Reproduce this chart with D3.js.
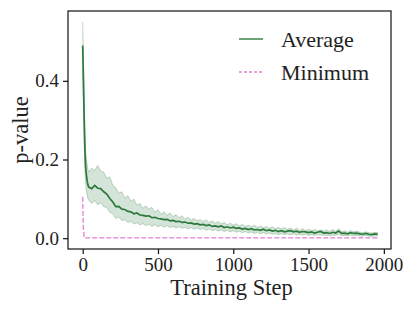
<!DOCTYPE html>
<html>
<head>
<script src="https://d3js.org/d3.v7.min.js"></script>
<style>
  body { margin: 0; background: #fff; }
  text { font-family: "Times New Roman", "Liberation Serif", serif; fill: #222; }
</style>
</head>
<body>
<div id="viz"></div>
<script type="text/javascript">
// training steps (x)
var steps = [0, 5, 10, 15, 20, 25, 30, 35,
  40, 60, 80, 100, 120, 140, 160, 180, 200, 220, 240, 260, 280, 300, 320, 340, 360, 380,
  400, 420, 440, 460, 480, 500, 520, 540, 560, 580, 600, 620, 640, 660, 680, 700, 720, 740, 760, 780,
  800, 820, 840, 860, 880, 900, 920, 940, 960, 980, 1000, 1020, 1040, 1060, 1080, 1100, 1120, 1140, 1160, 1180,
  1200, 1220, 1240, 1260, 1280, 1300, 1320, 1340, 1360, 1380, 1400, 1420, 1440, 1460, 1480, 1500, 1520, 1540, 1560, 1580,
  1600, 1620, 1640, 1660, 1680, 1700, 1720, 1740, 1760, 1780, 1800, 1820, 1840, 1860, 1880, 1900, 1920, 1940, 1960];

// average p-value
var avgValues = [0.49, 0.40, 0.30, 0.22, 0.18, 0.16, 0.145, 0.135,
  .130, .126, .134, .127, .126, .118, .112, .101, .092, .080, .081, .074, .073, .068, .067, .062, .064, .059,
  .058, .056, .057, .052, .053, .050, .049, .047, .048, .044, .045, .042, .043, .040, .041, .038, .039, .036, .037, .034,
  .035, .032, .034, .030, .031, .029, .031, .027, .029, .026, .028, .025, .026, .023, .025, .022, .024, .021, .022, .020,
  .023, .019, .021, .018, .020, .017, .019, .016, .018, .019, .016, .018, .015, .017, .016, .014, .016, .013, .015, .017,
  .013, .014, .012, .015, .013, .018, .012, .013, .011, .014, .012, .013, .011, .010, .012, .010, .009, .011, .010];

// upper edge of the shaded band
var hiValues = [0.55, 0.46, 0.36, 0.27, 0.22, 0.20, 0.185, 0.175,
  .168, .178, .172, .185, .170, .168, .152, .156, .134, .128, .114, .118, .102, .108, .094, .099, .084, .088,
  .076, .082, .074, .078, .066, .072, .061, .067, .058, .064, .055, .060, .052, .057, .049, .053, .046, .050, .044, .047,
  .042, .047, .040, .044, .038, .042, .036, .040, .034, .038, .033, .037, .031, .035, .030, .033, .029, .033, .027, .031,
  .026, .030, .025, .029, .024, .028, .023, .027, .022, .026, .021, .025, .020, .024, .019, .023, .019, .022, .018, .021,
  .018, .021, .017, .022, .017, .024, .016, .019, .015, .019, .016, .018, .015, .014, .016, .014, .013, .015, .014];

// lower edge of the shaded band
var loValues = [0.43, 0.34, 0.25, 0.17, 0.14, 0.12, 0.11, 0.10,
  .097, .088, .096, .085, .090, .080, .078, .066, .062, .050, .054, .045, .047, .040, .043, .036, .039, .034,
  .037, .032, .036, .030, .034, .029, .033, .028, .032, .027, .030, .026, .029, .025, .028, .024, .027, .023, .026, .022,
  .025, .020, .024, .019, .022, .018, .021, .017, .020, .016, .019, .015, .018, .014, .017, .013, .016, .012, .015, .011,
  .014, .011, .013, .010, .012, .009, .012, .009, .011, .009, .011, .008, .010, .008, .010, .007, .009, .007, .009, .008,
  .007, .008, .006, .008, .007, .010, .006, .007, .006, .008, .006, .007, .006, .005, .007, .005, .005, .006, .005];

// minimum p-value
var minSteps = [0, 4, 10, 1960];
var minValues = [0.105, 0.03, 0.001, 0.001];

var xTicks = [0, 500, 1000, 1500, 2000];
var yTicks = [0.0, 0.2, 0.4];

var width = 415, height = 311;
var box = {left: 68, top: 11, right: 391, bottom: 249};
var serif = "'Times New Roman', 'Liberation Serif', serif";

var avgColor = "#2b7a3b", minColor = "#dd82d2";

var svg = d3.select("#viz").append("svg")
    .attr("width", width)
    .attr("height", height);

var x = d3.scaleLinear().domain([-97.5, 2047.5]).range([box.left, box.right]);
var y = d3.scaleLinear().domain([-0.0275, 0.5775]).range([box.bottom, box.top]);

var avgData = steps.map(function(s, i) {
    return {s: s, a: avgValues[i], hi: hiValues[i], lo: loValues[i]};
});
var minData = minSteps.map(function(s, i) { return {s: s, v: minValues[i]}; });

// shaded band
svg.append("path")
    .datum(avgData)
    .attr("fill", avgColor)
    .attr("fill-opacity", 0.2)
    .attr("d", d3.area()
        .x(function(d) { return x(d.s); })
        .y0(function(d) { return y(d.lo); })
        .y1(function(d) { return y(d.hi); }));

// band edges
["hi", "lo"].forEach(function(k) {
    svg.append("path")
        .datum(avgData)
        .attr("fill", "none")
        .attr("stroke", avgColor)
        .attr("stroke-opacity", 0.35)
        .attr("stroke-width", 0.8)
        .attr("d", d3.line()
            .x(function(d) { return x(d.s); })
            .y(function(d) { return y(d[k]); }));
});

// minimum line
svg.append("path")
    .datum(minData)
    .attr("fill", "none")
    .attr("stroke", minColor)
    .attr("stroke-width", 1.3)
    .attr("stroke-dasharray", "5,2")
    .attr("d", d3.line()
        .x(function(d) { return x(d.s); })
        .y(function(d) { return y(d.v); }));

// average line
svg.append("path")
    .datum(avgData)
    .attr("fill", "none")
    .attr("stroke", avgColor)
    .attr("stroke-width", 1.7)
    .attr("d", d3.line()
        .x(function(d) { return x(d.s); })
        .y(function(d) { return y(d.a); }));

// frame
svg.append("rect")
    .attr("x", box.left).attr("y", box.top)
    .attr("width", box.right - box.left)
    .attr("height", box.bottom - box.top)
    .attr("fill", "none")
    .attr("stroke", "#111")
    .attr("stroke-width", 1.2);

// axes
var xAxis = svg.append("g")
    .attr("transform", "translate(0," + box.bottom + ")")
    .call(d3.axisBottom(x).tickValues(xTicks).tickSize(5).tickPadding(4).tickFormat(d3.format("d")));
var yAxis = svg.append("g")
    .attr("transform", "translate(" + box.left + ",0)")
    .call(d3.axisLeft(y).tickValues(yTicks).tickSize(5).tickPadding(4).tickFormat(d3.format(".1f")));

[xAxis, yAxis].forEach(function(g) {
    g.attr("font-family", serif).attr("font-size", 19);
    g.select(".domain").remove();
    g.selectAll(".tick line").attr("stroke", "#111").attr("stroke-width", 1.2);
    g.selectAll(".tick text").attr("fill", "#222");
});

// axis labels
svg.append("text")
    .attr("x", (box.left + box.right) / 2 + 2)
    .attr("y", 295)
    .attr("text-anchor", "middle")
    .style("font-size", "22.5px")
    .text("Training Step");

svg.append("text")
    .attr("transform", "translate(28," + (box.top + box.bottom) / 2 + ") rotate(-90)")
    .attr("text-anchor", "middle")
    .style("font-size", "22.5px")
    .text("p-value");

// legend
var legend = [
    {name: "Average", color: avgColor, dash: null, y: 39},
    {name: "Minimum", color: minColor, dash: "3,2", y: 72}
];
legend.forEach(function(d) {
    svg.append("line")
        .attr("x1", 239).attr("x2", 263)
        .attr("y1", d.y).attr("y2", d.y)
        .attr("stroke", d.color)
        .attr("stroke-width", 1.4)
        .attr("stroke-dasharray", d.dash);
    svg.append("text")
        .attr("x", 281)
        .attr("y", d.y + 7.5)
        .style("font-size", "22px")
        .text(d.name);
});
</script>
</body>
</html>
